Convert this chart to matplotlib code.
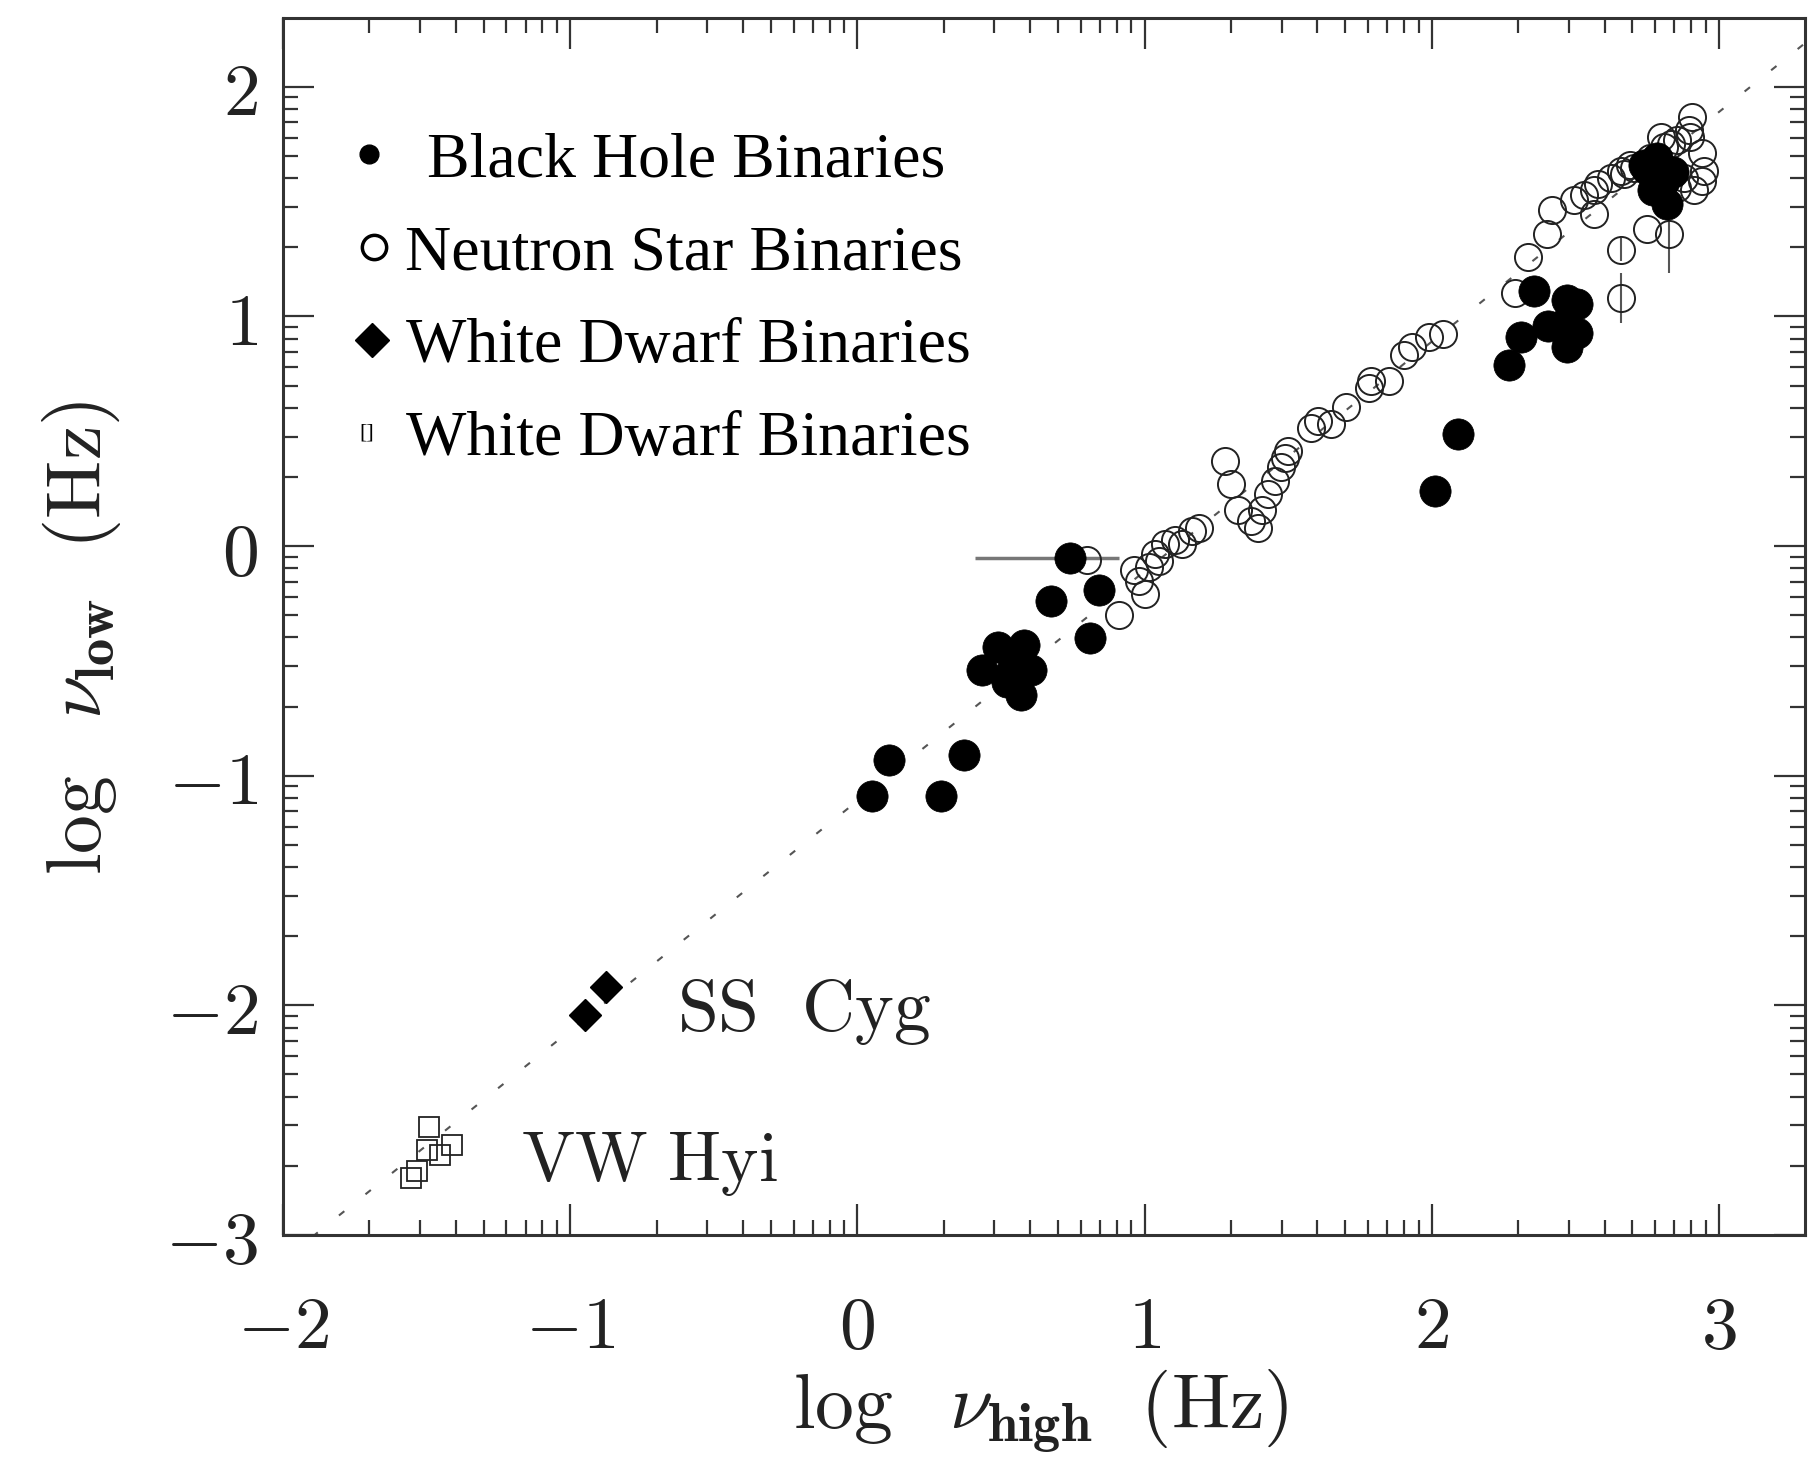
import numpy as np
import matplotlib
matplotlib.use("Agg")
import matplotlib.pyplot as plt
from matplotlib.ticker import FixedLocator

plt.rcParams["mathtext.fontset"] = "cm"
plt.rcParams["font.family"] = ["DejaVu Serif"]

# ---- data: log frequencies (Hz) ----
bh_x = [0.05, 0.11, 0.29, 0.37, 0.435, 0.49, 0.58, 0.605, 0.54, 0.57, 0.52,
        0.675, 0.74, 0.84, 0.81, 2.01, 2.09, 2.27, 2.31, 2.355, 2.405, 2.46,
        2.47, 2.47, 2.505, 2.505, 2.74, 2.785, 2.75, 2.81, 2.77, 2.82, 2.84]
bh_y = [-1.09, -0.93, -1.09, -0.91, -0.54, -0.44, -0.43, -0.54, -0.54, -0.65, -0.59,
        -0.24, -0.05, -0.19, -0.40, 0.24, 0.49, 0.79, 0.91, 1.11, 0.96, 0.965,
        1.07, 0.865, 1.055, 0.93, 1.66, 1.69, 1.64, 1.59, 1.55, 1.49, 1.63]

ns_x = [0.80, 0.91, 0.965, 0.98, 1.00, 1.015, 1.035, 1.05, 1.07, 1.105, 1.13, 1.165,
        1.19, 1.28, 1.30, 1.325, 1.37, 1.395, 1.41, 1.43, 1.455, 1.475, 1.49, 1.50,
        1.58, 1.605, 1.65, 1.70, 1.78, 1.79, 1.85, 1.905, 1.93, 1.99, 2.04, 2.29,
        2.335, 2.40, 2.42, 2.495, 2.53, 2.565, 2.58, 2.565, 2.625, 2.66, 2.69, 2.66,
        2.66, 2.75, 2.825, 2.905, 2.895, 2.90, 2.855, 2.835, 2.94, 2.95, 2.94, 2.88,
        2.855, 2.915, 2.80, 2.81, 2.76, 2.705, 2.67]
ns_y = [-0.06, -0.30, -0.105, -0.15, -0.21, -0.09, -0.035, -0.065, 0.01, 0.025, 0.01, 0.065,
        0.08, 0.37, 0.27, 0.155, 0.11, 0.08, 0.155, 0.225, 0.285, 0.345, 0.385, 0.415,
        0.515, 0.545, 0.53, 0.605, 0.69, 0.72, 0.72, 0.83, 0.865, 0.91, 0.925, 1.10,
        1.26, 1.36, 1.465, 1.505, 1.53, 1.55, 1.575, 1.445, 1.605, 1.635, 1.66, 1.29,
        1.08, 1.38, 1.36, 1.87, 1.81, 1.78, 1.77, 1.75, 1.71, 1.635, 1.59, 1.605,
        1.56, 1.55, 1.78, 1.74, 1.69, 1.645, 1.62]

ss_cyg_x = [-0.948, -0.875]
ss_cyg_y = [-2.04, -1.92]

vw_hyi_x = [-1.49, -1.41, -1.50, -1.455, -1.556, -1.535]
vw_hyi_y = [-2.53, -2.61, -2.63, -2.65, -2.75, -2.72]

# error bars
bh_err_x = [0.74]
bh_err_y = [-0.05]
bh_err_lo = [0.33]
bh_err_hi = [0.17]

ns_err_x = [2.66, 2.825, 2.66]
ns_err_y = [1.08, 1.36, 1.29]
ns_err_lo = [0.11, 0.17, 0.05]
ns_err_hi = [0.11, 0.06, 0.05]

# reference relation: log nu_low = log nu_high + offset
line_offset = -1.11

x_ticks = [-2, -1, 0, 1, 2, 3]
x_tick_labels = ["$-2$", "$-1$", "$0$", "$1$", "$2$", "$3$"]
y_ticks = [-3, -2, -1, 0, 1, 2]
y_tick_labels = ["$-3$", "$-2$", "$-1$", "$0$", "$1$", "$2$"]

legend_labels = ["Black Hole Binaries", "Neutron Star Binaries",
                 "White Dwarf Binaries", "White Dwarf Binaries"]

xlim = (-1.99, 3.3)
ylim = (-3.0, 2.3)

ink = "#222222"

fig = plt.figure(figsize=(18.19, 14.70), dpi=100)
ax = fig.add_axes([0.1556, 0.1599, 0.8367, 0.8279])
ax.set_xlim(*xlim)
ax.set_ylim(*ylim)

# dotted relation line
lx = np.array(xlim)
ax.plot(lx, lx + line_offset, color="#555555", lw=1.5,
        linestyle=(0, (3.3, 13)), zorder=1)

# error bars
ax.errorbar(bh_err_x, bh_err_y, xerr=[bh_err_lo, bh_err_hi], fmt="none",
            ecolor="#777777", elinewidth=2.5, capsize=0, zorder=2)
ax.errorbar(ns_err_x, ns_err_y, yerr=[ns_err_lo, ns_err_hi], fmt="none",
            ecolor="#555555", elinewidth=1.5, capsize=0, zorder=2)

# neutron star binaries
ax.plot(ns_x, ns_y, "o", ms=19.5, mfc="none", mec="#222222", mew=1.4, zorder=3)
# black hole binaries
ax.plot(bh_x, bh_y, "o", ms=22.5, mfc="black", mec="black", mew=0.5, zorder=4)
# white dwarfs
ax.plot(ss_cyg_x, ss_cyg_y, "D", ms=16, mfc="black", mec="black", zorder=4)
ax.plot(vw_hyi_x, vw_hyi_y, "s", ms=15, mfc="none", mec="#222222", mew=1.3, zorder=4)

# object names
ax.text(-0.628, -2.109, r"$\mathrm{SS\ \ Cyg}$", fontsize=53, color=ink,
        ha="left", va="baseline")
ax.text(-1.17, -2.765, r"$\mathrm{VW\ Hyi}$", fontsize=51, color=ink,
        ha="left", va="baseline")

# legend
leg_font = "Liberation Serif"
tr = ax.transAxes
ax.plot([0.0565], [0.888], "o", ms=13.5, color="black", transform=tr, clip_on=False)
ax.text(0.0946, 0.870, legend_labels[0], transform=tr, fontsize=46,
        family=leg_font, ha="left", va="baseline")
ax.plot([0.0598], [0.8118], "o", ms=17.5, mfc="white", mec="black", mew=2.5,
        transform=tr, clip_on=False)
ax.text(0.0802, 0.7936, legend_labels[1], transform=tr, fontsize=46,
        family=leg_font, ha="left", va="baseline")
ax.plot([0.0585], [0.7354], "D", ms=17, color="black", transform=tr, clip_on=False)
ax.text(0.081, 0.7173, legend_labels[2], transform=tr, fontsize=46,
        family=leg_font, ha="left", va="baseline")
ax.text(0.055, 0.659, "[]", transform=tr, fontsize=16, family=leg_font,
        ha="center", va="center")
ax.text(0.081, 0.6410, legend_labels[3], transform=tr, fontsize=46,
        family=leg_font, ha="left", va="baseline")

# axes styling
for s in ax.spines.values():
    s.set_linewidth(2.2)
    s.set_color("#333333")

ax.set_xticks(x_ticks)
ax.set_xticklabels(x_tick_labels)
ax.set_yticks(y_ticks)
ax.set_yticklabels(y_tick_labels)

def log_minor(lo, hi):
    out = []
    for n in range(int(np.floor(lo)), int(np.ceil(hi)) + 1):
        for k in range(2, 10):
            v = n + np.log10(k)
            if lo <= v <= hi:
                out.append(v)
    return out

ax.xaxis.set_minor_locator(FixedLocator(log_minor(*xlim)))
ax.yaxis.set_minor_locator(FixedLocator(log_minor(*ylim)))

ax.tick_params(which="both", direction="in", top=True, right=True,
               color="#333333", width=1.6)
ax.tick_params(which="major", length=22)
ax.tick_params(which="minor", length=11)
ax.tick_params(axis="x", which="major", pad=40, labelsize=53, labelcolor=ink)
ax.tick_params(axis="y", which="major", pad=18, labelsize=53, labelcolor=ink)

ax.set_xlabel(r"$\log\ \ \nu_{\mathbf{high}}\ \ (\mathrm{Hz})$", fontsize=56, color=ink)
ax.xaxis.label.set_verticalalignment("center")
ax.xaxis.set_label_coords(0.498, -0.1446)
ax.set_ylabel(r"$\log\ \ \nu_{\mathbf{low}}\ \ (\mathrm{Hz})$", fontsize=56, color=ink)
ax.yaxis.label.set_verticalalignment("center")
ax.yaxis.set_label_coords(-0.1327, 0.4906)

fig.savefig("out.png", dpi=100)
